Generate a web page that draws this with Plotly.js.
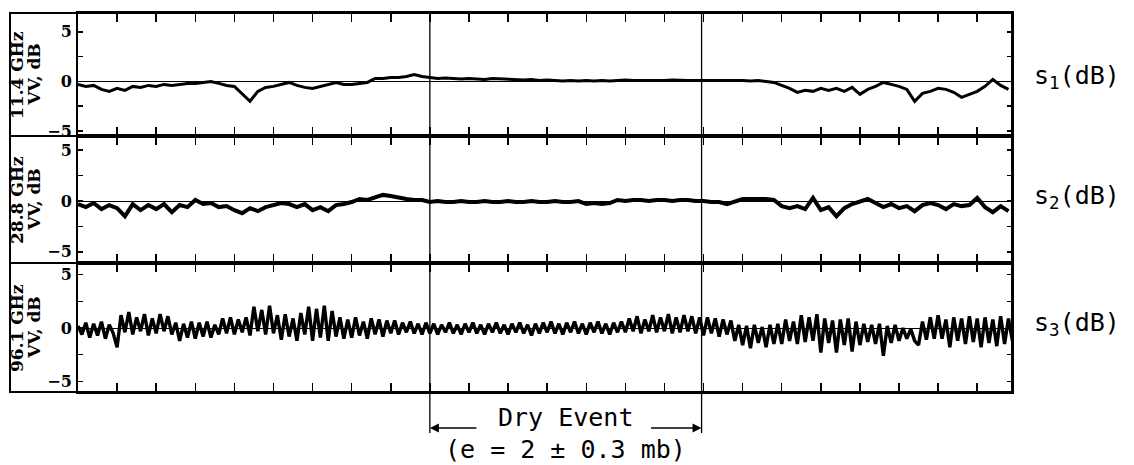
<!DOCTYPE html>
<html>
<head>
<meta charset="utf-8">
<script src="https://cdn.plot.ly/plotly-3.0.1.min.js"></script>
<style>html,body{margin:0;padding:0;background:#fff;}#chart{width:1134px;height:465px;}</style>
</head>
<body>
<div id="chart"></div>
<script>
// ---- data ----
// time axis in chart-division units (one major tick = 1 unit)
const step1 = 0.2, step2 = 0.2, step3 = 0.1;
const s1dB = [
 -0.3,-0.5,-0.4,-0.8,-1.0, -0.7,-0.9,-0.5,-0.6,-0.4, -0.5,-0.3,-0.4,-0.3,-0.2, -0.2,-0.1,0.0,-0.2,-0.4,
 -0.5,-1.2,-2.0,-1.0,-0.6, -0.5,-0.3,-0.1,-0.4,-0.6, -0.7,-0.5,-0.3,-0.1,-0.3, -0.3,-0.2,-0.1,0.3,0.3,
 0.4,0.4,0.5,0.7,0.5, 0.4,0.3,0.35,0.3,0.25, 0.3,0.25,0.2,0.3,0.25, 0.2,0.2,0.15,0.2,0.1,
 0.15,0.1,0.05,0.1,0.05, 0.1,0.05,0.1,0.05,0.1, 0.15,0.1,0.1,0.05,0.1, 0.1,0.15,0.1,0.1,0.1,
 0.1,0.1,0.15,0.1,0.1, 0.1,0.05,0.1,0.0,-0.1, -0.4,-0.7,-1.1,-0.9,-1.0, -0.7,-0.9,-0.7,-1.0,-0.6,
 -1.3,-0.8,-0.5,-0.1,-0.3, -0.5,-0.8,-2.0,-1.2,-1.0, -0.7,-0.8,-1.1,-1.6,-1.3, -1.0,-0.5,0.2,-0.4,-0.8
];
const s2dB = [
 -0.3,-0.6,-0.2,-0.8,-0.4, -0.7,-1.5,-0.3,-0.9,-0.4, -0.8,-0.3,-1.1,-0.4,-0.6, 0.1,-0.3,-0.2,-0.6,-0.5,
 -0.9,-1.2,-0.7,-1.0,-0.6, -0.4,-0.2,-0.3,-0.6,-0.3, -0.9,-0.6,-1.0,-0.4,-0.3, -0.1,0.2,0.1,0.4,0.6,
 0.5,0.3,0.2,0.1,0.1, -0.1,0.0,-0.1,-0.1,0.0, -0.1,-0.1,0.0,-0.1,-0.1, 0.0,-0.1,-0.1,0.0,-0.1,
 -0.1,0.0,-0.1,-0.1,0.0, -0.3,-0.2,-0.3,-0.2,0.1, 0.0,0.1,0.1,0.0,0.1, 0.1,0.0,0.1,0.1,0.0,
 0.0,-0.1,-0.1,-0.3,0.0, 0.2,0.2,0.2,0.2,0.1, -0.5,-0.7,-0.5,-0.8,0.3, -0.9,-0.6,-1.5,-0.7,-0.3,
 -0.1,0.2,-0.2,-0.6,-0.3, -0.7,-0.5,-1.0,-0.4,-0.2, -0.4,-0.8,-0.3,-0.5,-0.4, 0.3,-0.6,-1.1,-0.5,-1.0
];
const s3dB = [
 0.2,-0.6,0.5,-0.9,0.4,-0.7,0.6,-1.0,0.3,-0.5,
 -1.8,1.2,-0.4,1.5,-0.6,1.0,-0.3,1.3,-0.7,0.9,
 -0.5,1.3,-0.3,1.1,-0.6,0.5,-1.2,0.4,-0.9,0.6,
 -1.0,0.5,-0.8,0.6,-0.9,0.3,-0.6,0.9,-0.5,1.0,
 -0.6,0.8,-0.4,1.0,-0.7,2.0,-0.3,1.7,-0.6,2.1,
 -0.5,1.2,-1.1,1.3,-0.8,0.9,-1.2,1.4,-0.6,2.0,
 -1.2,1.8,-0.9,2.1,-1.2,1.6,-0.8,1.0,-1.0,0.8,
 -0.9,1.0,-0.7,0.6,-1.0,0.9,-0.6,0.8,-0.8,0.7,
 -0.5,0.7,-0.6,0.5,-0.4,0.6,-0.5,0.4,-0.6,0.5,
 -0.5,0.4,-0.6,0.3,-0.4,0.5,-0.5,0.3,-0.6,0.4,
 -0.4,0.5,-0.5,0.3,-0.6,0.4,-0.4,0.5,-0.5,0.3,
 -0.6,0.4,-0.4,0.5,-0.5,0.3,-0.7,0.4,-0.5,0.5,
 -0.4,0.6,-0.5,0.4,-0.6,0.5,-0.4,0.6,-0.5,0.4,
 -0.6,0.5,-0.4,0.6,-0.5,0.4,-0.6,0.5,-0.4,0.6,
 -0.4,0.9,-0.3,1.1,-0.5,0.8,-0.3,1.2,-0.4,1.0,
 -0.3,1.3,-0.5,1.0,-0.4,1.2,-0.3,1.1,-0.5,1.0,
 -0.7,1.0,-0.5,0.9,-0.8,0.8,-0.6,0.7,-1.2,0.3,
 -1.6,0.2,-1.9,0.3,-1.4,0.1,-1.8,0.3,-1.5,0.4,
 -1.5,0.8,-1.2,0.6,-1.5,1.2,-1.3,1.0,-1.2,1.3,
 -2.3,0.9,-1.4,0.7,-2.3,0.8,-1.6,0.9,-2.2,0.6,
 -1.6,0.4,-1.3,0.3,-1.5,0.4,-2.6,0.2,-1.4,0.3,
 -1.2,0.0,-1.0,-0.1,-1.2,-1.6,0.6,-1.1,1.0,-1.0,
 1.2,-1.0,0.8,-1.8,1.0,-1.2,0.9,-1.5,1.1,-1.3,
 0.9,-1.8,1.0,-1.4,0.8,-1.7,1.1,-1.5,0.9,-1.2
];
const channelLabels = [["11.4 GHz","VV, dB"],["28.8 GHz","VV, dB"],["96.1 GHz","VV, dB"]];
const rightLabels = ["s<sub>1</sub>(dB)","s<sub>2</sub>(dB)","s<sub>3</sub>(dB)"];
const yTickVals = [-5,0,5];
const yTickText = ["\u22125","0","5"];
const eventStart = 9, eventEnd = 15.95;
const eventLabel = "Dry Event";
const eventNote = "(e = 2 \u00b1 0.3 mb)";

// ---- build ----
const t1 = s1dB.map((_, i) => i * step1);
const t2 = s2dB.map((_, i) => i * step2);
const t3 = s3dB.map((_, i) => i * step3);

const traces = [
  {x: t1, y: s1dB, xaxis: 'x', yaxis: 'y', type: 'scatter', mode: 'lines', line: {color: '#000', width: 3}, hoverinfo: 'skip'},
  {x: t2, y: s2dB, xaxis: 'x2', yaxis: 'y2', type: 'scatter', mode: 'lines', line: {color: '#000', width: 4}, hoverinfo: 'skip'},
  {x: t3, y: s3dB, xaxis: 'x3', yaxis: 'y3', type: 'scatter', mode: 'lines', line: {color: '#000', width: 3.4}, hoverinfo: 'skip'}
];

const domains = [[0.6755, 1], [0.3404, 0.6755], [0, 0.3404]];
const yRanges = [[-5.5, 6.9], [-6.1, 6.4], [-6.0, 6.1]];
const xRange = [0, 23.89];

const tickFont = {family: 'DejaVu Serif', size: 16, color: '#000', weight: 'bold'};
function xax(anchor) {
  return {range: xRange, anchor: anchor, showline: true, linecolor: '#000', linewidth: 2,
    mirror: 'allticks', ticks: 'inside', ticklen: 9, tickwidth: 1.5, tickcolor: '#000',
    tick0: 0, dtick: 1, showticklabels: false, showgrid: false, zeroline: false, fixedrange: true};
}
function yax(i, anchor) {
  return {domain: domains[i], range: yRanges[i], anchor: anchor, showline: true, linecolor: '#000', linewidth: 2,
    mirror: 'allticks', ticks: 'inside', ticklen: 5, tickwidth: 1.5, tickcolor: '#000',
    tickmode: 'array', tickvals: yTickVals, ticktext: yTickText, tickfont: tickFont, ticklabelstandoff: 1,
    minor: {tick0: 0, dtick: 2.5, ticks: 'inside', ticklen: 5, tickwidth: 1.5, tickcolor: '#000', showgrid: false},
    showgrid: false, zeroline: true, zerolinecolor: '#000', zerolinewidth: 1, fixedrange: true};
}

const leftX = -0.0728;
const shapes = [
  {type: 'rect', xref: 'paper', yref: 'paper', x0: leftX, x1: 1, y0: 0, y1: 1, line: {color: '#000', width: 2}},
  {type: 'line', xref: 'paper', yref: 'paper', x0: leftX, x1: 0, y0: domains[0][0], y1: domains[0][0], line: {color: '#000', width: 2}},
  {type: 'line', xref: 'paper', yref: 'paper', x0: leftX, x1: 0, y0: domains[1][0], y1: domains[1][0], line: {color: '#000', width: 2}},
  {type: 'line', xref: 'x', yref: 'paper', x0: eventStart, x1: eventStart, y0: -0.108, y1: 1, line: {color: '#000', width: 1.3}},
  {type: 'line', xref: 'x', yref: 'paper', x0: eventEnd, x1: eventEnd, y0: -0.108, y1: 1, line: {color: '#000', width: 1.3}}
];

const annotations = [];
const serifBold = {family: 'DejaVu Serif', size: 17, color: '#000', weight: 'bold'};
channelLabels.forEach((pair, i) => {
  const yc = (domains[i][0] + domains[i][1]) / 2;
  annotations.push({xref: 'paper', yref: 'paper', x: -0.0648, y: yc, text: pair[0], showarrow: false,
    textangle: -90, xanchor: 'center', yanchor: 'middle', font: serifBold});
  annotations.push({xref: 'paper', yref: 'paper', x: -0.0468, y: yc, text: pair[1], showarrow: false,
    textangle: -90, xanchor: 'center', yanchor: 'middle', font: serifBold});
});
const yrefs = ['y', 'y2', 'y3'];
rightLabels.forEach((t, i) => {
  annotations.push({xref: 'paper', yref: yrefs[i], x: 1.0214, y: 0, text: t, showarrow: false,
    xanchor: 'left', yanchor: 'middle', yshift: 4,
    font: {family: 'DejaVu Sans Mono', size: 25, color: '#000'}});
});
const monoFont = {family: 'DejaVu Sans Mono', size: 25, color: '#000'};
annotations.push({xref: 'paper', yref: 'paper', x: (565 - 78) / 934, y: -0.066, text: eventLabel,
  showarrow: false, xanchor: 'center', yanchor: 'middle', font: monoFont});
annotations.push({xref: 'paper', yref: 'paper', x: (565 - 78) / 934, y: -0.153, text: eventNote,
  showarrow: false, xanchor: 'center', yanchor: 'middle', font: monoFont});
annotations.push({xref: 'x', yref: 'paper', x: eventStart, y: -0.095, ax: 48, ay: 0, text: '',
  showarrow: true, arrowhead: 2, arrowsize: 1.2, arrowwidth: 1.5, arrowcolor: '#000'});
annotations.push({xref: 'x', yref: 'paper', x: eventEnd, y: -0.095, ax: -52, ay: 0, text: '',
  showarrow: true, arrowhead: 2, arrowsize: 1.2, arrowwidth: 1.5, arrowcolor: '#000'});

const layout = {
  width: 1134, height: 465,
  margin: {l: 78, r: 122, t: 13, b: 73},
  paper_bgcolor: '#fff', plot_bgcolor: '#fff',
  showlegend: false,
  xaxis: xax('y'), xaxis2: xax('y2'), xaxis3: xax('y3'),
  yaxis: yax(0, 'x'), yaxis2: yax(1, 'x2'), yaxis3: yax(2, 'x3'),
  shapes: shapes, annotations: annotations
};

Plotly.newPlot('chart', traces, layout, {staticPlot: true, displayModeBar: false});
</script>
</body>
</html>
